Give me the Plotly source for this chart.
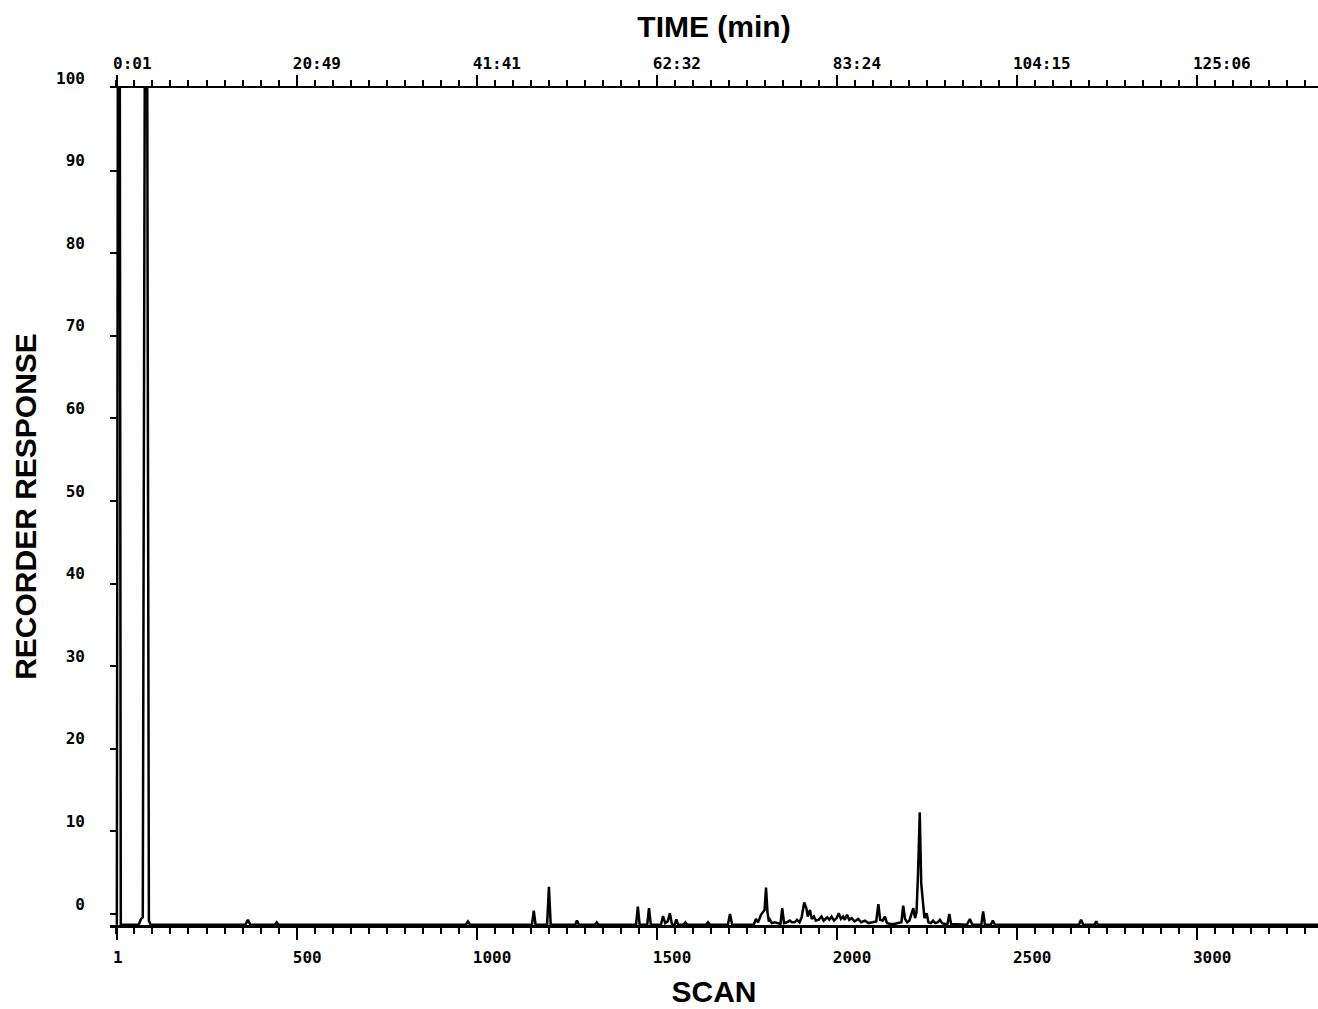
import plotly.graph_objects as go

# ---- data (scan number vs recorder response) ----
scan = [
    1, 4, 9, 12,
    62, 68, 73, 79, 85, 90, 95,
    358, 365, 372,
    440, 445, 450,
    970, 976, 982,
    1154, 1159, 1164,
    1196, 1201, 1206,
    1274, 1279, 1284,
    1329, 1334, 1339,
    1443, 1448, 1453,
    1474, 1479, 1484,
    1512, 1518, 1524, 1531, 1537, 1543,
    1550, 1555, 1560,
    1575, 1580, 1585,
    1638, 1643, 1648,
    1698, 1704, 1710,
    1770, 1776, 1782, 1790, 1800, 1804, 1808, 1812, 1815, 1820, 1828,
    1844, 1849, 1854, 1862, 1870, 1876, 1884, 1890, 1897, 1903, 1910, 1916,
    1920, 1926, 1931, 1937, 1942, 1950, 1958, 1964, 1974, 1980, 1986, 1993,
    2000, 2006, 2012, 2018, 2023, 2029, 2035, 2042, 2050, 2060, 2068, 2079,
    2088, 2100, 2110, 2116, 2121, 2128, 2134, 2140, 2150, 2160, 2170, 2180,
    2185, 2190, 2196, 2202, 2208, 2213, 2218, 2222, 2226, 2231, 2235, 2239,
    2244, 2250, 2255, 2262, 2268, 2274, 2281, 2287, 2293, 2300, 2308, 2313,
    2318, 2362, 2370, 2377, 2402, 2407, 2412, 2428, 2434, 2440,
    2673, 2679, 2685, 2716, 2721, 2726, 3337,
]
response = [
    -1.3, 110, 110, -1.3,
    -1.3, -0.6, -0.4, 110, 110, -0.8, -1.3,
    -1.3, -0.7, -1.3,
    -1.3, -1.0, -1.3,
    -1.3, -0.9, -1.3,
    -1.3, 0.4, -1.3,
    -1.3, 3.3, -1.3,
    -1.3, -0.8, -1.3,
    -1.3, -1.0, -1.3,
    -1.3, 0.9, -1.3,
    -1.3, 0.7, -1.3,
    -1.3, -0.25, -1.1, -0.9, 0.1, -1.3,
    -1.3, -0.65, -1.3,
    -1.3, -1.0, -1.3,
    -1.3, -1.0, -1.3,
    -1.3, 0.0, -1.3,
    -1.3, -0.6, -1.0, -0.1, 0.5, 3.2, 0.2, -0.9, -0.7, -1.1, -1.0,
    -1.2, 0.7, -1.1, -1.0, -0.8, -1.0, -1.0, -0.7, -1.0, -0.4, 1.4, 0.7,
    -0.3, 0.5, -0.6, -0.3, -0.8, -0.7, -0.3, -0.8, -0.4, -0.7, -0.3, -0.8,
    -0.5, 0.1, -0.6, -0.3, -0.7, -0.1, -0.7, -0.5, -0.9, -0.6, -1.0, -0.8,
    -1.1, -1.0, -0.9, 1.2, -0.7, -0.8, -0.3, -1.1, -1.2, -1.2, -1.1, -1.0,
    1.0, -0.6, -1.0, -0.8, 0.0, 0.7, -0.5, 0.2, 4.7, 12.3, 3.7, 1.5,
    -0.5, 0.1, -1.0, -1.1, -0.8, -1.1, -1.0, -0.7, -1.1, -1.2, -1.2, 0.0,
    -1.2, -1.3, -0.6, -1.3, -1.3, 0.3, -1.3, -1.3, -0.8, -1.3,
    -1.3, -0.7, -1.3, -1.3, -0.9, -1.3, -1.3,
]

scan_ticks = [1, 500, 1000, 1500, 2000, 2500, 3000]
scan_labels = ["1", "500", "1000", "1500", "2000", "2500", "3000"]
time_labels = ["0:01", "20:49", "41:41", "62:32", "83:24", "104:15", "125:06"]
response_ticks = [0, 10, 20, 30, 40, 50, 60, 70, 80, 90, 100]
response_labels = [str(v) for v in response_ticks]

X_RANGE = [-18, 3337]
Y_RANGE = [-1.33, 100]

tick_font = dict(family="DejaVu Sans Mono", size=16, color="black", weight="bold")
title_font = dict(family="Liberation Sans, Arial, sans-serif", size=30, color="black", weight="bold")

fig = go.Figure()
fig.add_trace(go.Scatter(
    x=scan, y=response, mode="lines",
    line=dict(color="black", width=2.5),
    xaxis="x", yaxis="y", showlegend=False, hoverinfo="skip",
))
# invisible trace so the top (time) axis is rendered
fig.add_trace(go.Scatter(
    x=[scan[0]], y=[response[0]], mode="markers",
    marker=dict(opacity=0), xaxis="x2", yaxis="y",
    showlegend=False, hoverinfo="skip",
))

fig.update_layout(
    width=1318, height=1009,
    margin=dict(l=110, r=0, t=88, b=84, autoexpand=False),
    paper_bgcolor="white", plot_bgcolor="white",
    xaxis=dict(
        range=X_RANGE, showgrid=False, zeroline=False, automargin=False,
        showline=True, linecolor="black", linewidth=2.5,
        tickmode="array", tickvals=scan_ticks, ticktext=scan_labels,
        ticks="outside", ticklen=12, tickwidth=2, tickcolor="black",
        minor=dict(tick0=0, dtick=50, ticks="outside", ticklen=6,
                   tickwidth=2, tickcolor="black", showgrid=False),
        ticklabelposition="outside right", ticklabelshift=-6,
        ticklabelstandoff=16,
        tickfont=tick_font,
        title=dict(text="SCAN", font=title_font, standoff=16),
    ),
    xaxis2=dict(
        range=X_RANGE, overlaying="x", side="top", anchor="y",
        showgrid=False, zeroline=False, automargin=False,
        showline=True, linecolor="black", linewidth=2.5,
        tickmode="array", tickvals=scan_ticks, ticktext=time_labels,
        ticks="outside", ticklen=11, tickwidth=2, tickcolor="black",
        minor=dict(tick0=0, dtick=50, ticks="outside", ticklen=6,
                   tickwidth=2, tickcolor="black", showgrid=False),
        ticklabelposition="outside right", ticklabelshift=-6,
        ticklabelstandoff=10,
        tickfont=tick_font,
        title=dict(text="TIME (min)", font=title_font, standoff=8),
    ),
    yaxis=dict(
        range=Y_RANGE, showgrid=False, zeroline=False, showline=False,
        automargin=False,
        tickmode="array", tickvals=response_ticks, ticktext=response_labels,
        ticks="inside", ticklen=8, tickwidth=2, tickcolor="black",
        ticklabelstandoff=24, ticklabelshift=-10,
        tickfont=tick_font,
        title=dict(text="RECORDER RESPONSE", font=title_font, standoff=10),
    ),
)

fig.write_html(
    "out.html",
    config={"displayModeBar": False, "staticPlot": True},
    post_script="document.body.style.margin='0';",
)
